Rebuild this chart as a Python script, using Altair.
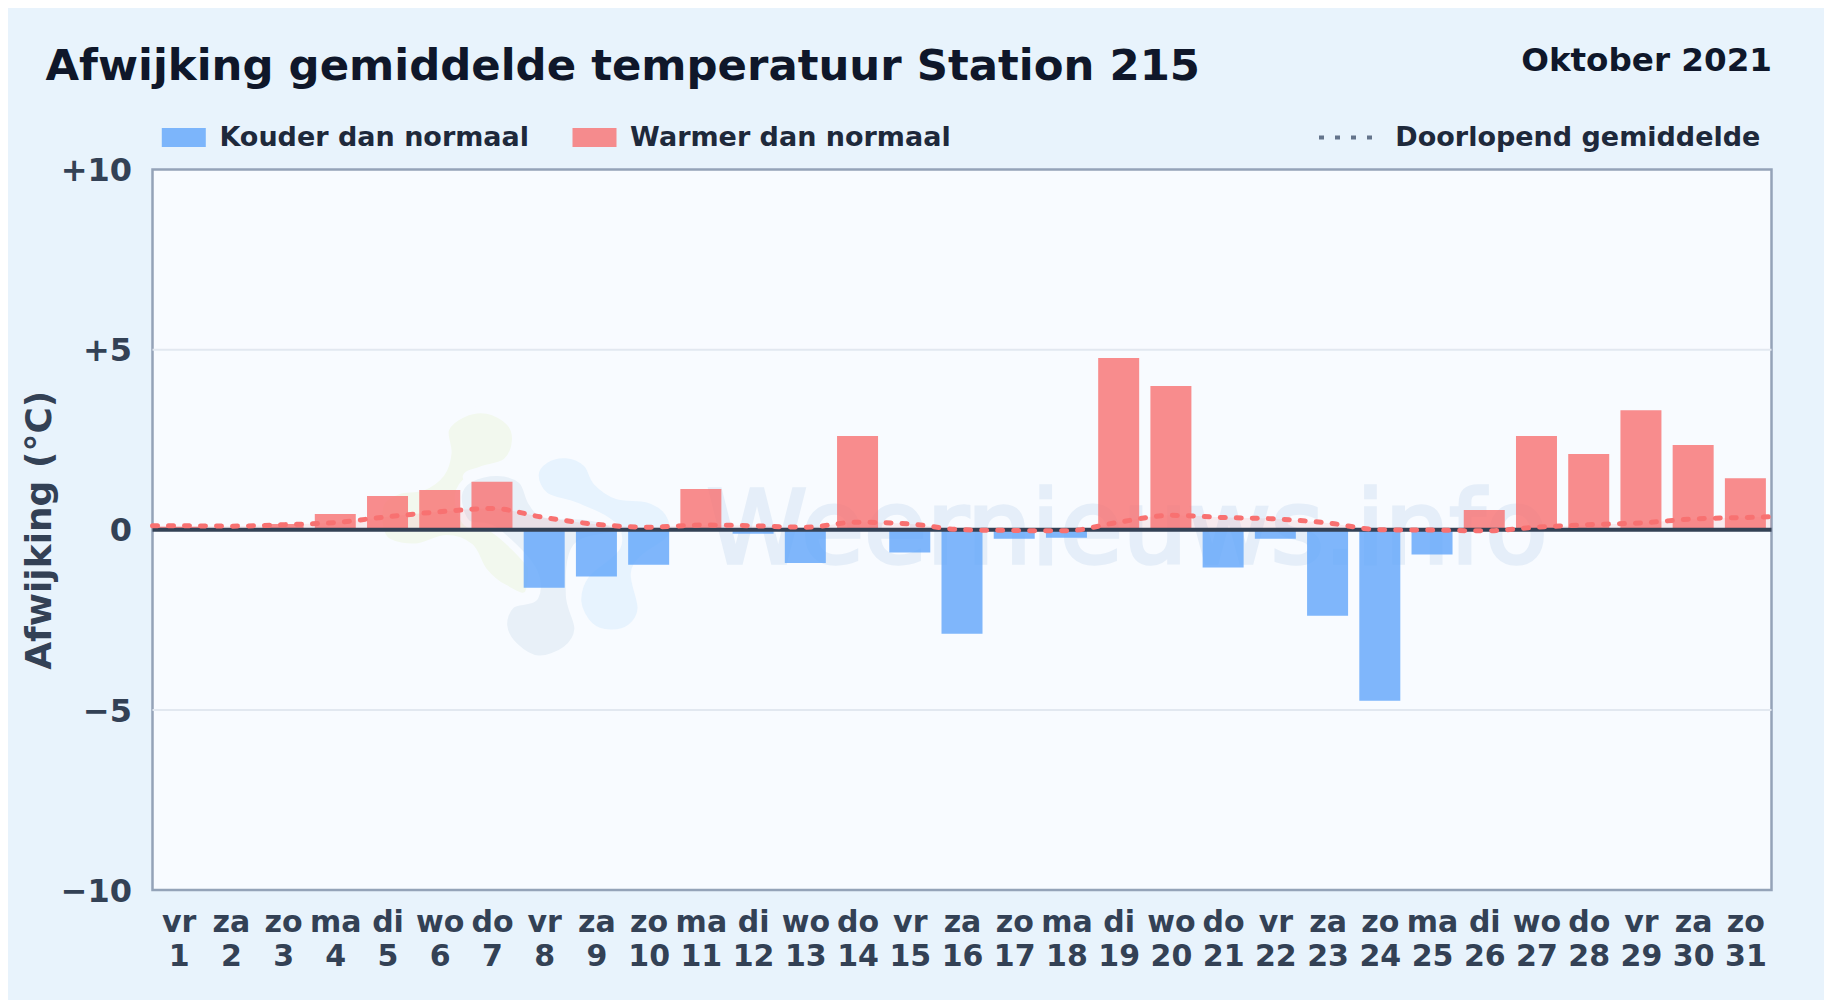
import altair as alt
import pandas as pd

TITLE = "Afwijking gemiddelde temperatuur Station 215"
PERIOD = "Oktober 2021"
WATERMARK = "Weernieuws.info"
dagen = ["vr","za","zo","ma","di","wo","do","vr","za","zo","ma","di","wo","do","vr","za","zo","ma","di","wo","do","vr","za","zo","ma","di","wo","do","vr","za","zo"]
afwijking = [0.08,0.05,0.16,0.44,0.94,1.10,1.33,-1.61,-1.30,-0.97,1.13,-0.11,-0.92,2.60,-0.63,-2.89,-0.25,-0.22,4.77,3.99,-1.05,-0.25,-2.39,-4.75,-0.69,0.55,2.60,2.10,3.32,2.35,1.43]
lijn_x = [0.5]+list(range(1,32))+[31.5]
lijn_y = [0.11,0.11,0.10,0.14,0.20,0.36,0.50,0.59,0.34,0.15,0.07,0.13,0.11,0.07,0.21,0.16,0.0,-0.02,-0.03,0.21,0.40,0.34,0.30,0.19,0.0,-0.01,-0.03,0.07,0.14,0.19,0.30,0.34,0.36]
raster = [-5, 5]

KOUD = "Kouder dan normaal"
WARM = "Warmer dan normaal"
LIJN = "Doorlopend gemiddelde"
W, H = 1619, 720.5
FONT = "DejaVu Sans"

def smooth(points):
    pts = [((x-450)/450, (y-405)/450) for x, y in points]
    n = len(pts)
    d = f"M{pts[0][0]:.4f},{pts[0][1]:.4f}"
    for i in range(n):
        p0, p1, p2, p3 = pts[i-1], pts[i], pts[(i+1) % n], pts[(i+2) % n]
        c1 = (p1[0]+(p2[0]-p0[0])/6, p1[1]+(p2[1]-p0[1])/6)
        c2 = (p2[0]-(p3[0]-p1[0])/6, p2[1]-(p3[1]-p1[1])/6)
        d += f"C{c1[0]:.4f},{c1[1]:.4f},{c2[0]:.4f},{c2[1]:.4f},{p2[0]:.4f},{p2[1]:.4f}"
    return d + "Z"

olijf = [(238,95),(290,50),(360,40),(425,75),(442,130),(415,190),(340,215),(300,240),(400,300),(480,420),(480,575),(410,560),(350,510),(310,440),(240,415),(150,440),(70,425),(45,380),(50,310),(100,275),(170,265),(225,225),(245,165)]
lucht = [(500,230),(530,185),(590,170),(650,195),(680,250),(740,290),(830,300),(890,340),(900,410),(820,470),(790,520),(810,620),(780,675),(720,692),(660,670),(625,600),(650,520),(740,440),(720,370),(620,320),(530,290)]
marine = [(275,290),(310,240),(390,222),(460,245),(490,310),(530,345),(640,350),(710,365),(740,400),(620,440),(600,580),(625,680),(590,740),(510,768),(440,730),(408,670),(430,610),(500,585),(490,500),(380,390),(300,370)]

df = pd.DataFrame({"dag": list(range(1,32)), "v": afwijking})
df["soort"] = [WARM if v >= 0 else KOUD for v in afwijking]
lijn = pd.DataFrame({"x": lijn_x, "y": lijn_y, "naam": LIJN})

xscale = alt.Scale(domain=[0.5,31.5], nice=False, zero=False, padding=0)
yscale = alt.Scale(domain=[-10,10], nice=False)
day_js = "[" + ",".join(f"'{d}'" for d in dagen) + "]"

x_axis = alt.Axis(values=list(range(1,32)), title=None, grid=False, domain=False, ticks=False,
                  labelExpr=f"[{day_js}[datum.value-1], '' + datum.value]",
                  labelOverlap=False, labelFlush=False, labelBound=False, labelAngle=0,
                  labelFont=FONT, labelFontSize=30, labelFontWeight="bold", labelColor="#334155",
                  labelPadding=17, labelLineHeight=34, labelBaseline="top")
y_axis = alt.Axis(values=[-10,-5,0,5,10], title="Afwijking (°C)", grid=False,
                  domain=False, ticks=False, labelOffset=1.2,
                  labelExpr="datum.value>0 ? '+'+datum.value : (datum.value<0 ? '−'+abs(datum.value) : '0')",
                  labelFont=FONT, labelFontSize=32, labelFontWeight="bold", labelColor="#334155", labelPadding=21,
                  titleFont=FONT, titleFontSize=36, titleFontWeight="bold", titleColor="#334155", titleX=-113, titleY=H/2,
                  titleAngle=270, titleAlign="center", titleBaseline="middle", labelOverlap=False)

X = lambda f: alt.X(f, scale=xscale, axis=x_axis)
Y = lambda f: alt.Y(f, scale=yscale, axis=y_axis)

grid = alt.Chart(pd.DataFrame({"y": raster})).mark_rule(color="#e2e8f0", strokeWidth=2).encode(y=Y("y:Q"))

blob_x, blob_y = 7.50, -0.147
def blob(path, color):
    return alt.Chart(pd.DataFrame({"x":[blob_x],"y":[blob_y]})).mark_point(
        shape=path, size=94500, filled=True, fill=color, stroke="#f8fbff", strokeWidth=7, opacity=1
    ).encode(x=X("x:Q"), y=Y("y:Q"))

wm = alt.Chart(pd.DataFrame({"x":[19.16],"y":[-0.92],"t":[WATERMARK]})).mark_text(
    font=FONT, fontSize=102, fontWeight="normal", color="#2f74c0", stroke="#2f74c0", strokeWidth=3.5, opacity=0.09,
    align="center", baseline="alphabetic"
).encode(x=X("x:Q"), y=Y("y:Q"), text="t:N")

area = alt.Chart(lijn).mark_area(color="#f87171", opacity=0.12, interpolate="monotone").encode(
    x=X("x:Q"), y=Y("y:Q"), y2=alt.datum(0))

bars = alt.Chart(df).mark_bar(size=41, orient="vertical", opacity=0.8).encode(
    x=X("dag:Q"),
    y=alt.Y("v:Q", scale=yscale, axis=y_axis, stack=None),
    color=alt.Color("soort:N", scale=alt.Scale(domain=[KOUD, WARM], range=["#60a5fa","#f87171"]),
        legend=alt.Legend(orient="none", legendX=9.3, legendY=-54, direction="horizontal", columns=2, title=None,
            symbolType="M-1,-0.432H1V0.432H-1Z", symbolSize=1936, symbolStrokeWidth=0,
            labelFont=FONT, labelFontSize=27, labelFontWeight="bold", labelColor="#1e293b",
            labelOffset=13.6, columnPadding=42.7, labelLimit=600, padding=0, rowPadding=0)))

line = alt.Chart(lijn).mark_line(color="#f87171", strokeWidth=5, strokeCap="round", interpolate="monotone").encode(
    x=X("x:Q"), y=Y("y:Q"),
    strokeDash=alt.StrokeDash("naam:N", scale=alt.Scale(domain=[LIJN], range=[[5,11]]),
        legend=alt.Legend(orient="none", legendX=1164.5, legendY=-62, title=None, symbolType="stroke", symbolSize=3136,
            symbolStrokeWidth=4, symbolStrokeColor="#64748b",
            labelFont=FONT, labelFontSize=27, labelFontWeight="bold", labelColor="#1e293b",
            labelOffset=18.3, labelLimit=600, padding=0)))

zero = alt.Chart(pd.DataFrame({"y":[0]})).mark_rule(color="#334155", strokeWidth=4).encode(y=Y("y:Q"))

period = alt.Chart(pd.DataFrame({"t":[PERIOD]})).mark_text(
    font=FONT, fontSize=32.6, fontWeight="bold", color="#0f172a", align="right", baseline="alphabetic"
).encode(x=alt.value(W+0.5), y=alt.value(-99), text="t:N")

chart = alt.layer(grid, blob(smooth(olijf), "#f2f8ee"), blob(smooth(lucht), "#e7f3fe"), blob(smooth(marine), "#e8f0f8"),
                  wm, area, bars, zero, line, period).resolve_scale(x="shared", y="shared").properties(
    width=W, height=H, background="#e8f3fc",
    padding={"left":144.5,"top":161.5,"right":52.5,"bottom":110},
    autosize=alt.AutoSizeParams(type="none"),
    title=alt.TitleParams(TITLE, anchor="start", frame="group", dx=-107, dy=78.5, offset=0, baseline="alphabetic",
                          font=FONT, fontSize=43.4, fontWeight="bold", color="#0f172a"),
).configure_view(fill="#f8fbff", stroke="#94a3b8", strokeWidth=2.5)

chart.save("out.html", embed_options={"renderer": "svg", "actions": False})
